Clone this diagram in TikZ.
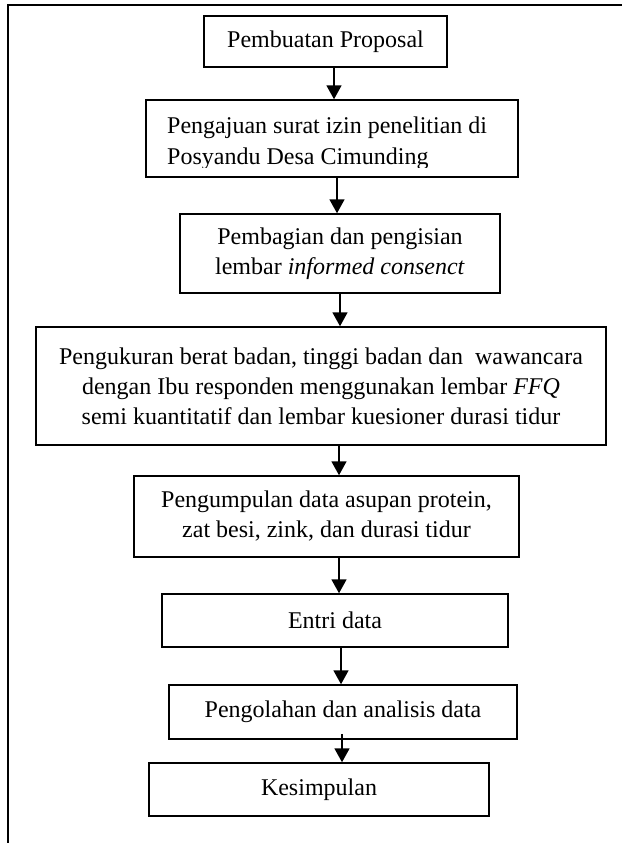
\documentclass[tikz,border=0pt]{standalone}
\usepackage{fontspec}
\setmainfont{Liberation Serif}
\usetikzlibrary{arrows.meta,calc}
\begin{document}
\begin{tikzpicture}[x=1pt,y=-1pt,
  boxstyle/.style={draw, line width=1.5pt, inner sep=0pt, align=center, font=\fontsize{24}{30}\selectfont},
  txt/.style={inner sep=0pt, font=\fontsize{24}{30}\selectfont},
  arr/.style={line width=1.8pt, -{Triangle[width=15pt,length=14pt]}},
  framestyle/.style={line width=1.5pt}]
\useasboundingbox (0,0) rectangle (622,843);
\draw[framestyle] (8,843) -- (8,5) -- (622,5);

\node[boxstyle, minimum width=243pt, minimum height=51pt] (b1) at (325.5,41.5) {Pembuatan Proposal};
\node[boxstyle, minimum width=372pt, minimum height=77pt] (b2) at (332,138.5) {};
\begin{scope}
  \clip (146,100) rectangle (518,167);
  \node[txt, anchor=base west] (t2a) at (167,133) {Pengajuan surat izin penelitian di};
  \node[txt, anchor=base west] (t2b) at (167,164) {Posyandu Desa Cimunding};
\end{scope}
\node[boxstyle, minimum width=320pt, minimum height=79pt] (b3) at (340,253.5) {Pembagian dan pengisian\\lembar \textit{informed consenct}};
\node[boxstyle, minimum width=570pt, minimum height=118pt] (b4) at (321,386) {Pengukuran berat badan, tinggi badan dan\ \ wawancara\\dengan Ibu responden menggunakan lembar \textit{FFQ}\\semi kuantitatif dan lembar kuesioner durasi tidur};
\node[boxstyle, minimum width=385pt, minimum height=81pt] (b5) at (326.5,516.5) {Pengumpulan data asupan protein,\\zat besi, zink, dan durasi tidur};
\node[boxstyle, minimum width=346pt, minimum height=53pt] (b6) at (335,620.5) {Entri data};
\node[boxstyle, minimum width=348pt, minimum height=54pt] (b7) at (343,712) {Pengolahan dan analisis data};
\node[boxstyle, minimum width=340pt, minimum height=53pt] (b8) at (319,789.5) {Kesimpulan};

\coordinate (a1) at (334,0);
\coordinate (a2) at (337,0);
\coordinate (a3) at (340,0);
\coordinate (a4) at (339,0);
\coordinate (a5) at (339,0);
\coordinate (a6) at (341,0);
\coordinate (a7) at (342,0);
\draw[arr] (b1.south -| a1) -- (b2.north -| a1);
\draw[arr] (b2.south -| a2) -- (b3.north -| a2);
\draw[arr] (b3.south -| a3) -- (b4.north -| a3);
\draw[arr] (b4.south -| a4) -- (b5.north -| a4);
\draw[arr] (b5.south -| a5) -- (b6.north -| a5);
\draw[arr] (b6.south -| a6) -- (b7.north -| a6);
\draw[arr] ([yshift=6pt]b7.south -| a7) -- (b8.north -| a7);
\end{tikzpicture}
\end{document}
